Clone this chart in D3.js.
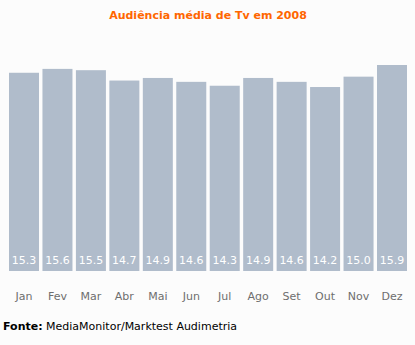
<!DOCTYPE html>
<html>
<head>
<meta charset="utf-8">
<script src="https://cdn.jsdelivr.net/npm/d3@7/dist/d3.min.js"></script>
<style>
  html, body { margin: 0; padding: 0; background: #fcfcfc; }
  svg { display: block; }
</style>
</head>
<body>
<script>
// Monthly average TV audience, 2008
const months = ["Jan", "Fev", "Mar", "Abr", "Mai", "Jun", "Jul", "Ago", "Set", "Out", "Nov", "Dez"];
const audience = [15.3, 15.6, 15.5, 14.7, 14.9, 14.6, 14.3, 14.9, 14.6, 14.2, 15.0, 15.9];
const titleText = "Audiência média de Tv em 2008";
const sourceLabel = "Fonte:";
const sourceText = " MediaMonitor/Marktest Audimetria";

const W = 415, H = 345;
const font = "'DejaVu Sans', Verdana, sans-serif";

const svg = d3.select("body").append("svg")
  .attr("width", W).attr("height", H);

svg.append("rect").attr("width", W).attr("height", H).attr("fill", "#fcfcfc");

const x = d3.scaleBand()
  .domain(months)
  .range([9, 407])
  .paddingInner(0.103)
  .paddingOuter(0);

const y = d3.scaleLinear()
  .domain([0, 15.9])
  .range([271, 65]);

const data = months.map((m, i) => ({ m, v: audience[i] }));

// bars
svg.append("g").selectAll("rect")
  .data(data).join("rect")
  .attr("x", d => x(d.m))
  .attr("y", d => y(d.v))
  .attr("width", x.bandwidth())
  .attr("height", d => y(0) - y(d.v))
  .attr("fill", "#b0bccb");

// value labels inside the bars
svg.append("g").selectAll("text")
  .data(data).join("text")
  .attr("x", d => x(d.m) + x.bandwidth() / 2)
  .attr("y", 264)
  .attr("text-anchor", "middle")
  .attr("font-family", font)
  .attr("font-size", 11)
  .attr("fill", "#ffffff")
  .text(d => d.v.toFixed(1));

// month axis
const axis = svg.append("g")
  .attr("transform", `translate(0,${y(0)})`)
  .call(d3.axisBottom(x).tickSize(0).tickPadding(21));
axis.select(".domain").remove();
axis.selectAll("text")
  .attr("font-family", font)
  .attr("font-size", 11)
  .attr("fill", "#6e6e6e");

// title
svg.append("text")
  .attr("x", 208).attr("y", 19)
  .attr("text-anchor", "middle")
  .attr("font-family", font)
  .attr("font-size", 11)
  .attr("font-weight", "bold")
  .attr("fill", "#ff6600")
  .text(titleText);

// source line
const src = svg.append("text")
  .attr("x", 3).attr("y", 330)
  .attr("font-family", font)
  .attr("font-size", 11)
  .attr("fill", "#000");
src.append("tspan").attr("font-weight", "bold").text(sourceLabel);
src.append("tspan").text(sourceText);
</script>
</body>
</html>
